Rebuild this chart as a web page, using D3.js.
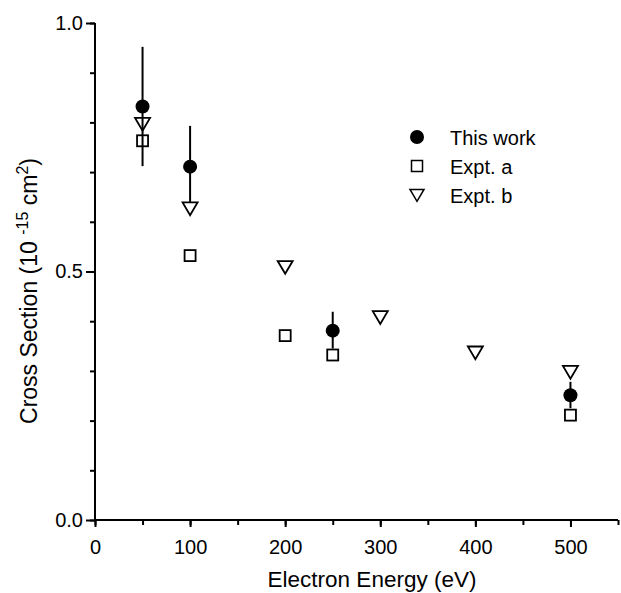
<!DOCTYPE html>
<html><head><meta charset="utf-8">
<script src="https://cdn.jsdelivr.net/npm/d3@7"></script>
<style>body{margin:0;background:#fff}svg{display:block}text{font-family:"Liberation Sans",Arial,sans-serif;fill:#000}</style>
</head><body>
<svg id="c" width="621" height="593"></svg>
<script>
const thisEnergy = [50, 100, 250, 500];
const thisValue = [0.832, 0.711, 0.381, 0.251];
const thisLow = [0.712, 0.64, 0.345, 0.225];
const thisHigh = [0.952, 0.793, 0.419, 0.278];
const aEnergy = [50, 100, 200, 250, 500];
const aValue = [0.763, 0.532, 0.371, 0.332, 0.211];
const bEnergy = [50, 100, 200, 300, 400, 500];
const bValue = [0.797, 0.627, 0.509, 0.408, 0.337, 0.298];
const xTicks = [0, 100, 200, 300, 400, 500];
const yTicks = [0.0, 0.5, 1.0];
const legendLabels = ["This work", "Expt. a", "Expt. b"];

const svg = d3.select("#c");
const x = d3.scaleLinear().domain([0, 550]).range([95, 618]);
const y = d3.scaleLinear().domain([0, 1]).range([520, 23]);

// axes
const xAxis = svg.append("g").attr("transform", "translate(0,520)");
xAxis.call(d3.axisBottom(x).tickValues(d3.range(0, 551, 50)).tickSize(5).tickFormat(""));
xAxis.call(g => g.selectAll(".tick line").attr("stroke-width", 2));
const xMaj = svg.append("g").attr("transform", "translate(0,520)")
  .call(d3.axisBottom(x).tickValues(xTicks).tickSize(7).tickFormat(d3.format("d")));
xMaj.select(".domain").remove();
xMaj.selectAll(".tick line").attr("stroke-width", 2);
xMaj.selectAll("text").attr("font-size", 20).attr("font-family", "Liberation Sans")
  .attr("y", 34).attr("dy", null);
xAxis.select(".domain").attr("stroke-width", 2).attr("d", `M${x(0)},0H${x(550)}`);

const yAxis = svg.append("g").attr("transform", "translate(95,0)");
yAxis.call(d3.axisLeft(y).tickValues(d3.range(0, 11).map(d => d / 10)).tickSize(5).tickFormat(""));
yAxis.selectAll(".tick line").attr("stroke-width", 2);
yAxis.select(".domain").attr("stroke-width", 2).attr("d", `M0,${y(0)}V${y(1)}`);
const yMaj = svg.append("g").attr("transform", "translate(95,0)")
  .call(d3.axisLeft(y).tickValues(yTicks).tickSize(9).tickPadding(3).tickFormat(d3.format(".1f")));
yMaj.select(".domain").remove();
yMaj.selectAll(".tick line").attr("stroke-width", 2);
yMaj.selectAll("text").attr("font-size", 20).attr("font-family", "Liberation Sans");

// axis titles
svg.append("text").attr("x", 372).attr("y", 587).attr("text-anchor", "middle")
  .attr("font-size", 22.5).text("Electron Energy (eV)");
const yl = svg.append("text").attr("transform", "translate(37,291) rotate(-90)")
  .attr("text-anchor", "middle").attr("font-size", 23);
yl.append("tspan").text("Cross Section (10 ");
yl.append("tspan").attr("font-size", 16).attr("dy", -9).text("-15");
yl.append("tspan").attr("dy", 9).text(" cm");
yl.append("tspan").attr("font-size", 16).attr("dy", -9).text("2");
yl.append("tspan").attr("dy", 9).text(")");

// error bars
const thisData = thisEnergy.map((e, i) => ({e, v: thisValue[i], lo: thisLow[i], hi: thisHigh[i]}));
svg.append("g").selectAll("line").data(thisData).join("line")
  .attr("x1", d => x(d.e)).attr("x2", d => x(d.e))
  .attr("y1", d => y(d.lo)).attr("y2", d => y(d.hi))
  .attr("stroke", "#000").attr("stroke-width", 2);

const tri = s => `M${-s},${-s * 0.8}L${s},${-s * 0.8}L0,${s * 0.9}Z`;
// triangles
svg.append("g").selectAll("path").data(bEnergy.map((e, i) => ({e, v: bValue[i]}))).join("path")
  .attr("transform", d => `translate(${x(d.e)},${y(d.v)})`)
  .attr("d", tri(7.5)).attr("fill", "none").attr("stroke", "#000").attr("stroke-width", 1.8);
// squares
svg.append("g").selectAll("rect").data(aEnergy.map((e, i) => ({e, v: aValue[i]}))).join("rect")
  .attr("x", d => x(d.e) - 5.5).attr("y", d => y(d.v) - 5.5).attr("width", 11).attr("height", 11)
  .attr("fill", "none").attr("stroke", "#000").attr("stroke-width", 1.8);
// circles
svg.append("g").selectAll("circle").data(thisData).join("circle")
  .attr("cx", d => x(d.e)).attr("cy", d => y(d.v)).attr("r", 7).attr("fill", "#000");

// legend
const lg = svg.append("g");
const ly = [137, 166, 195];
lg.append("circle").attr("cx", 417).attr("cy", ly[0]).attr("r", 7).attr("fill", "#000");
lg.append("rect").attr("x", 411.5).attr("y", ly[1] - 5.5).attr("width", 11).attr("height", 11)
  .attr("fill", "none").attr("stroke", "#000").attr("stroke-width", 1.5);
lg.append("path").attr("transform", `translate(417,${ly[2]})`).attr("d", tri(7))
  .attr("fill", "none").attr("stroke", "#000").attr("stroke-width", 1.5);
lg.selectAll("text").data(legendLabels).join("text")
  .attr("x", 450).attr("y", (d, i) => ly[i] + 7.5).attr("font-size", 20).text(d => d);
</script>
</body></html>
